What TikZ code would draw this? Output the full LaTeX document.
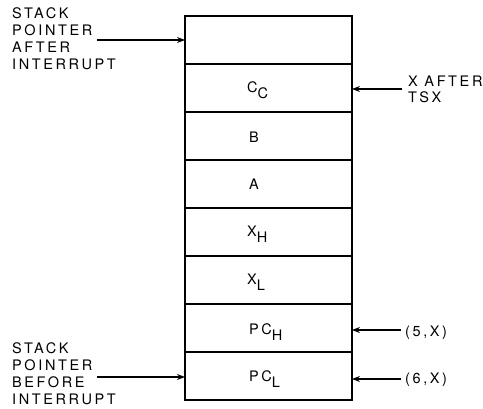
\documentclass[tikz,border=0pt]{standalone}
\usepackage{fontspec}
\setmainfont{TeX Gyre Heros}[LetterSpace=18]
\usetikzlibrary{arrows.meta}
\newcommand{\lbfont}{\fontsize{14.5}{17}\selectfont}
\newcommand{\subtxt}[1]{\raisebox{-6pt}{#1}}
\begin{document}
\begin{tikzpicture}[x=1pt,y=-1pt,
  cell/.style={draw, line width=1.4pt, minimum width=167pt, minimum height=48pt, inner sep=0pt, outer sep=0pt},
  lab/.style={anchor=base west, inner sep=0pt, font=\lbfont},
  celltext/.style={anchor=base west, inner sep=0pt, font=\lbfont},
  arr/.style={line width=1.1pt, -{Stealth[length=8pt,width=6pt]}}]
\useasboundingbox (0,0) rectangle (483,409);
% stack cells
\node[cell] (r0) at (268.5,40) {};
\node[cell] (r1) at (268.5,88) {};
\node[cell] (r2) at (268.5,136) {};
\node[cell] (r3) at (268.5,184) {};
\node[cell] (r4) at (268.5,232) {};
\node[cell] (r5) at (268.5,280) {};
\node[cell] (r6) at (268.5,328) {};
\node[cell] (r7) at (268.5,376) {};
% cell contents
\node[celltext] (t1) at (247,93) {C\subtxt{C}};
\node[celltext] (t2) at (249,143) {B};
\node[celltext] (t3) at (249,190) {A};
\node[celltext] (t4) at (247,237) {X\subtxt{H}};
\node[celltext] (t5) at (247,285) {X\subtxt{L}};
\node[celltext] (t6) at (249,335) {PC\subtxt{H}};
\node[celltext] (t7) at (249,382) {PC\subtxt{L}};
% top-left label
\node[lab] (a1) at (12,19) {STACK};
\node[lab] (a2) at (12,36) {POINTER};
\node[lab] (a3) at (12,53) {AFTER};
\node[lab] (a4) at (12,70) {INTERRUPT};
\coordinate (sa) at (97,40);
\draw[arr] (sa) -- (r0.west);
% bottom-left label
\node[lab] (b1) at (12,354) {STACK};
\node[lab] (b2) at (12,371) {POINTER};
\node[lab] (b3) at (12,388) {BEFORE};
\node[lab] (b4) at (12,405) {INTERRUPT};
\coordinate (sb) at (97,377);
\draw[arr] (sb) -- (r7.west |- sb);
% right labels
\node[lab] (x1) at (408,87) {X AFTER};
\node[lab] (x2) at (408,103) {TSX};
\coordinate (sx) at (402,89);
\draw[arr] (sx) -- (r1.east |- sx);
\node[lab] (p5) at (405,337) {(5,X)};
\coordinate (s5) at (401,330);
\draw[arr] (s5) -- (r6.east |- s5);
\node[lab] (p6) at (405,384) {(6,X)};
\coordinate (s6) at (401,379);
\draw[arr] (s6) -- (r7.east |- s6);
\end{tikzpicture}
\end{document}
